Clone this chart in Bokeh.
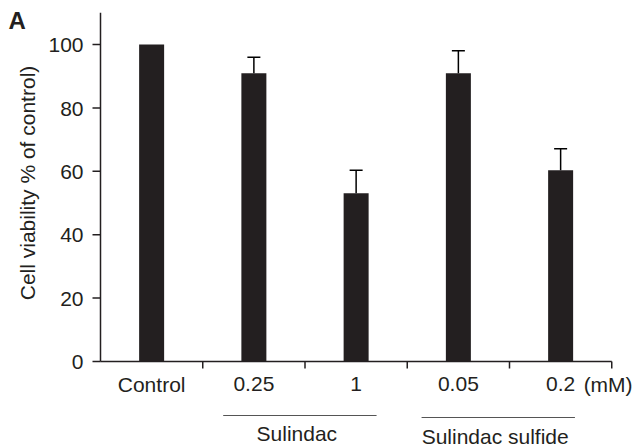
import math
from bokeh.plotting import figure
from bokeh.models import Range1d
from bokeh.core.properties import value
from bokeh.embed import file_html
from bokeh.resources import INLINE

# ---- data ----
categories = ["Control", "0.25", "1", "0.05", "0.2"]
viability = [100.0, 90.9, 53.1, 90.9, 60.3]
errors = [0.0, 5.1, 7.2, 7.1, 6.8]
y_ticks = [0, 20, 40, 60, 80, 100]
y_max = 110
unit_label = "(mM)"
groups = ["Sulindac", "Sulindac sulfide"]
group_members = [[1, 2], [3, 4]]
y_title = "Cell viability % of control)"
panel_label = "A"

# ---- layout / style ----
W, H = 633, 448
ORIGIN_X, ORIGIN_Y = 100, 361   # pixel position of (0, 0)
PX_X = 102.25                   # px per category
PX_Y = 3.17                     # px per % unit
DARK = "#231f20"
FONT = "Liberation Sans"
FS = "21px"
BL = 8.4                        # baseline correction (px) for 21px text


def dx(px):
    return px / PX_X


def dy(px):
    return px / PX_Y


p = figure(width=W, height=H, output_backend="svg", toolbar_location=None,
           x_range=Range1d(-dx(ORIGIN_X), dx(W - ORIGIN_X)),
           y_range=Range1d(-dy(H - ORIGIN_Y), dy(ORIGIN_Y)),
           x_axis_location=None, y_axis_location=None,
           min_border_left=0, min_border_right=0, min_border_top=0,
           min_border_bottom=0)
p.outline_line_color = None
p.xgrid.visible = False
p.ygrid.visible = False
p.background_fill_color = "white"

n = len(categories)
centers = [i + 0.5 for i in range(n)]
txt = dict(text_font=value(FONT), text_font_size=FS, text_color=DARK)

# ---- y axis ----
p.segment(x0=[0], y0=[0], x1=[0], y1=[y_max], line_color=DARK, line_width=1.5)
p.segment(x0=[-dx(8)] * len(y_ticks), y0=y_ticks, x1=[0] * len(y_ticks), y1=y_ticks,
          line_color=DARK, line_width=1.5)
p.text(x=[-dx(17)] * len(y_ticks), y=[t - dy(9 - BL) for t in y_ticks],
       text=[str(t) for t in y_ticks], text_align="right",
       text_baseline="alphabetic", **txt)
p.text(x=[-dx(65 + BL)], y=[dy(178.5)], text=[y_title], angle=math.pi / 2,
       text_align="center", text_baseline="alphabetic", **txt)

# ---- x axis ----
p.segment(x0=[0], y0=[0], x1=[n], y1=[0], line_color=DARK, line_width=1.5)
bounds_x = list(range(1, n + 1))
p.segment(x0=bounds_x, y0=[0] * n, x1=bounds_x, y1=[-dy(7)] * n,
          line_color=DARK, line_width=1.5)
p.text(x=centers, y=[-dy(31 - BL)] * n, text=categories, text_align="center",
       text_baseline="alphabetic", **txt)
p.text(x=[centers[-1] + dx(23)], y=[-dy(31 - BL)], text=[unit_label], text_align="left",
       text_baseline="alphabetic", **txt)

# ---- bars ----
p.vbar(x=centers, top=viability, bottom=0, width=dx(25),
       fill_color=DARK, line_color=None)

# ---- error bars (upper only) ----
err_x = [c for c, e in zip(centers, errors) if e > 0]
err_lo = [v for v, e in zip(viability, errors) if e > 0]
err_hi = [v + e for v, e in zip(viability, errors) if e > 0]
cap = dx(6.5)
p.segment(x0=err_x, y0=err_lo, x1=err_x, y1=err_hi, line_color="black", line_width=1.5)
p.segment(x0=[x - cap for x in err_x], y0=err_hi, x1=[x + cap for x in err_x], y1=err_hi,
          line_color="black", line_width=1.5)

# ---- group underlines and names ----
line_pad = [(-0.30, 0.20), (-0.36, 0.14)]
line_drop = [54, 56]
text_drop = [80.5, 83]
for name, members, (pl, pr), ld, td in zip(groups, group_members, line_pad, line_drop, text_drop):
    x0 = centers[members[0]] + pl
    x1 = centers[members[-1]] + pr
    p.segment(x0=[x0], y0=[-dy(ld)], x1=[x1], y1=[-dy(ld)], line_color="#555555", line_width=1)
    p.text(x=[(x0 + x1) / 2 - 0.03], y=[-dy(td - BL)], text=[name], text_align="center",
           text_baseline="alphabetic", **txt)

# ---- panel letter ----
p.text(x=[-dx(92)], y=[dy(331 + 9.6)], text=[panel_label], text_font=value(FONT),
       text_font_size="24px", text_font_style="bold", text_color=DARK,
       text_align="left", text_baseline="alphabetic")

open("out.html", "w").write(file_html(p, INLINE))
